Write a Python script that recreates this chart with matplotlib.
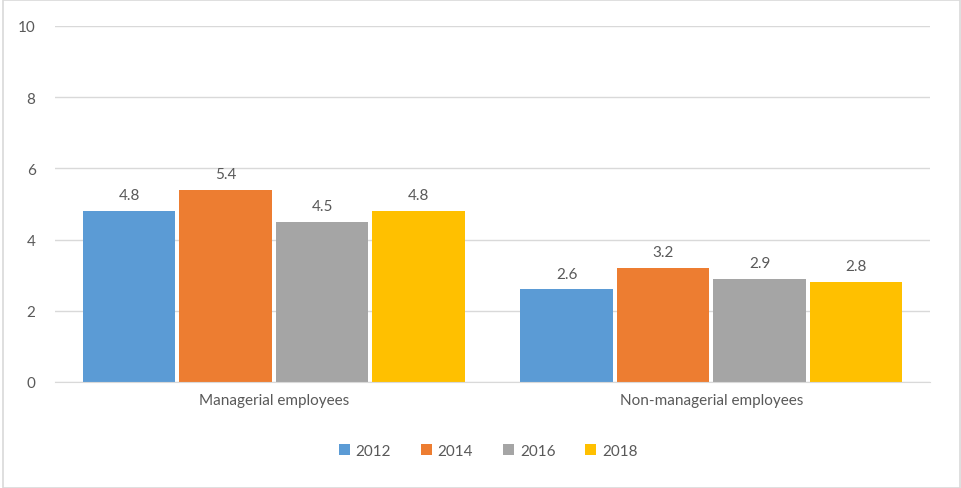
import matplotlib.pyplot as plt
from matplotlib.patches import Rectangle
import numpy as np

plt.rcParams['font.family'] = ['Lato', 'DejaVu Sans']

categories = ['Managerial employees', 'Non-managerial employees']
years = ['2012', '2014', '2016', '2018']
values = {
    '2012': [4.8, 2.6],
    '2014': [5.4, 3.2],
    '2016': [4.5, 2.9],
    '2018': [4.8, 2.8],
}
colors = ['#5b9bd5', '#ed7d31', '#a5a5a5', '#ffc000']

text_color = '#595959'
grid_color = '#d9d9d9'

fig = plt.figure(figsize=(9.61, 4.89), dpi=100)
ax = fig.add_axes([0.0572, 0.2168, 0.9106, 0.728])

x = np.arange(len(categories))
pitch = 0.2205
width = 0.212
for j, year in enumerate(years):
    pos = x + (j - 1.5) * pitch
    bars = ax.bar(pos, values[year], width, color=colors[j], label=year, zorder=3)
    for b, v in zip(bars, values[year]):
        ax.text(b.get_x() + b.get_width() / 2, v + 0.25, f'{v:.1f}',
                ha='center', va='bottom', fontsize=11, color=text_color)

ax.set_xlim(-0.5, 1.5)
ax.set_ylim(0, 10)
ax.set_yticks(range(0, 11, 2))
ax.yaxis.grid(True, color=grid_color, linewidth=1, zorder=0)
ax.set_xticks(x)
ax.set_xticklabels(categories)
ax.tick_params(axis='both', length=0, labelsize=11, labelcolor=text_color)
ax.tick_params(axis='x', pad=8)
ax.tick_params(axis='y', pad=14)
for s in ['top', 'right', 'left']:
    ax.spines[s].set_visible(False)
ax.spines['bottom'].set_color(grid_color)
ax.spines['bottom'].set_zorder(4)

leg = fig.legend(loc='center', bbox_to_anchor=(0.508, 0.076), ncol=4, frameon=False,
                 fontsize=11, handlelength=0.7, handleheight=0.7, columnspacing=1.95,
                 handletextpad=0.4)
for t in leg.get_texts():
    t.set_color(text_color)

fig.patches.append(Rectangle((0.003, 0.0), 0.996, 0.997, transform=fig.transFigure,
                             fill=False, edgecolor='#d9d9d9', linewidth=1.2))

fig.savefig('out.png', dpi=100)
